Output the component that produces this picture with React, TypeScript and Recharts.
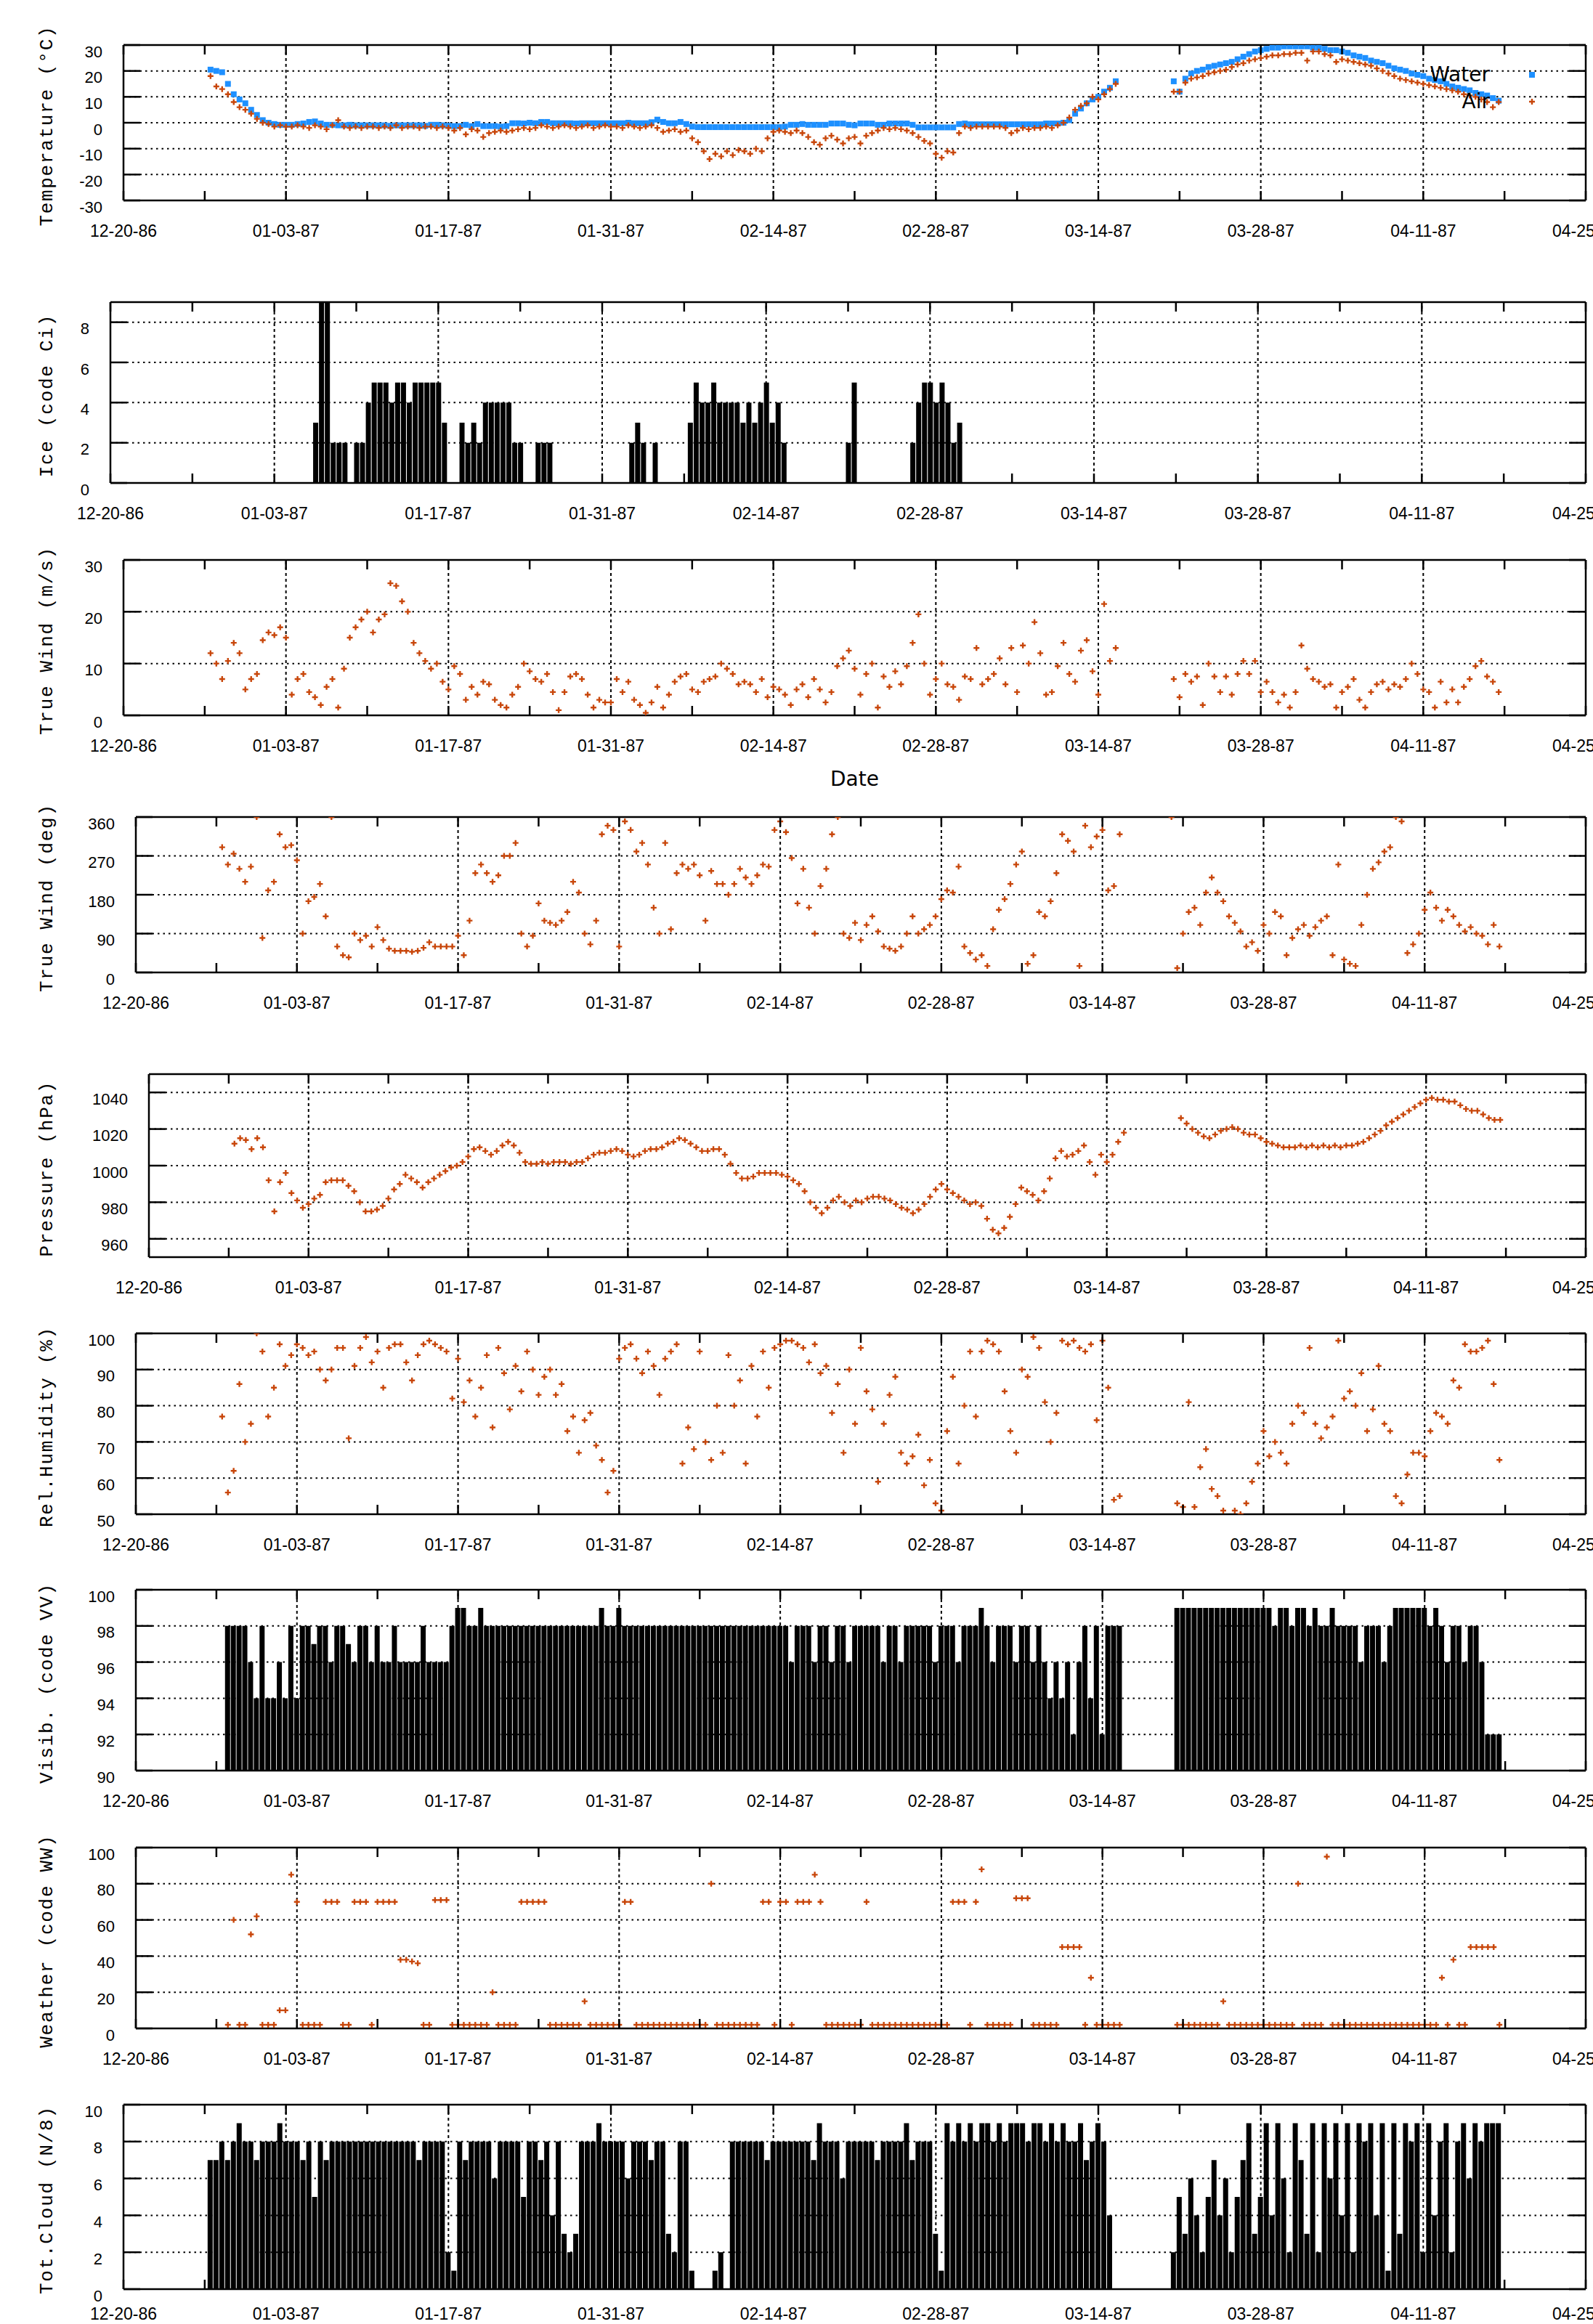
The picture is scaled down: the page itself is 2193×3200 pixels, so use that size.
import React from 'react';
import { Bar, ComposedChart, ReferenceLine, Scatter, XAxis, YAxis } from 'recharts';

const PAGE_W = 2193;
const ORANGE = '#c8460a';
const BLUE = '#1e90ff';
const START_DAY = 7.5; // 12-27-86 12:00, first observation
const STEP = 0.5; // two readings per day
const _ = null;

// x = days since 12-20-86
const xTickDays = [0, 7, 14, 21, 28, 35, 42, 49, 56, 63, 70, 77, 84, 91, 98, 105, 112, 119, 126];
const dateLabels = ['12-20-86', '01-03-87', '01-17-87', '01-31-87', '02-14-87', '02-28-87', '03-14-87', '03-28-87', '04-11-87', '04-25-87'];
const gridDays = [14, 28, 42, 56, 70, 84, 98, 112];

// one row = one week (14 half-day readings)
const waterTemp = [
  20.5, 20, 19.5, 15, 11, 9, 7.5, 5, 3, 1, 0, -0.5, -0.8, -0.8,
  -0.8, -0.5, -0.3, 0.3, 0.5, -0.3, -0.8, -0.8, -1, -1, -0.8, -1, -1, -1,
  -1, -1, -1, -1.2, -1, -1, -1, -1, -1, -1.2, -0.8, -0.8, -1, -1.2,
  -1.3, -1.3, -0.8, -1.3, -0.5, -1.3, -1.3, -1.3, -1.5, -1.3, -0.2, -0.2, -0.3, 0,
  -0.2, 0.3, 0.3, -0.2, -0.2, -0.2, -0.2, -0.3, -0.2, -0.2, -0.2, -0.2, -0.2, -0.2,
  -0.2, -0.2, 0, -0.2, -0.2, -0.2, 0.2, 1.2, 0.3, -0.2, -0.2, 0.3, -0.5, -1.5,
  -1.7, -1.7, -1.7, -1.7, -1.7, -1.7, -1.7, -1.7, -1.7, -1.7, -1.7, -1.7, -1.7, -1.7,
  -1.7, -1.5, -0.8, -0.8, -0.5, -0.8, -0.8, -0.8, -0.8, -0.3, -0.3, -0.3, -0.8, -1,
  -0.3, -0.3, -0.3, -0.8, -0.8, -0.3, -0.3, -0.3, -0.3, -0.8, -1.8, -1.8, -1.8, -1.8,
  -1.8, -1.8, -1.8, -0.5, -0.3, -0.6, -0.6, -0.6, -0.6, -0.6, -0.6, -0.6, -0.6, -0.6,
  -0.6, -0.6, -0.6, -0.6, -0.3, -0.3, -0.3, 0, 1, 3.5, 5.5, 7.5, 9, 10,
  12, 13.5, 16, _, _, _, _, _, _, _, _, _, 16, 12,
  17, 19, 20, 20.5, 21.5, 22, 22.5, 23, 23.5, 24.5, 25.5, 26.5, 27.5, 28,
  28.5, 29, 29, 29.5, 29.5, 29.5, 29.5, 29.5, 29, 29, 28.5, 28, 28, 27.5,
  27, 26, 25.5, 25, 24, 23.5, 23, 22, 21, 20.5, 20, 19, 18.5, 18,
  17, 16.5, 16, 15, 14, 13.5, 13, 12.5, 11.5, 11, 10.5, 9.5, 8.5, _,
];

const airTemp = [
  18, 14, 13, 11, 8, 6, 5, 3.5, 1.5, 0, -0.5, -1.5, -1, -1.5,
  -1.5, -1, -1.5, -2, -1, -1.5, -2.5, -1, 1, -1.5, -2, -1.5, -2, -1.5,
  -1.5, -2, -1.5, -2, -1, -2, -1.5, -1.5, -2, -1.5, -1.5, -2, -1.5, -2,
  -3, -2, -4.5, -2.5, -3, -5.5, -4, -3.5, -3, -3.5, -3, -2.5, -2, -2.5,
  -2, -1, -1.5, -2, -1.5, -1, -1.5, -2, -1.5, -1, -2, -1.5, -1, -1.5,
  -1.5, -2, -1, -1.5, -2, -1.5, -1, -2, -3.5, -3, -2.5, -3.5, -3, -6,
  -7.5, -11, -14, -12, -13, -11, -12.5, -10.5, -11, -12, -10, -11, -6, -3.5,
  -3, -3.5, -4, -3, -4, -5.5, -7.5, -8.5, -6, -5, -6.5, -8, -6, -5.5,
  -8, -5, -4, -3, -2, -2.5, -2, -2.5, -3, -4, -5.5, -7, -8, -12,
  -13.5, -11, -11.5, -4, -1.5, -2, -1.5, -1.5, -1.5, -1.5, -1.5, -2, -4, -3,
  -2, -2.5, -2, -2, -1.5, -2, -1, 0, 2, 5, 6.5, 7.5, 10, 9,
  11, 13, 15, _, _, _, _, _, _, _, _, _, 12, 12,
  15.5, 17, 17.5, 18, 19, 19.5, 20, 20.5, 21.5, 22.5, 23, 24, 24.5, 25,
  25.5, 26, 26, 26.5, 26.5, 27, 27, 24, 27.5, 27.5, 26.5, 26, 23.5, 24.5,
  24, 23.5, 23, 22.5, 22, 21, 20, 19, 18, 17, 16.5, 16, 15.5, 15,
  14.5, 14, 13.5, 13, 12.5, 12, 11, 10.5, 10, 9, 8, 6, 8, _,
];

const iceCode = [
  0, 0, 0, 0, 0, 0, 0, 0, 0, 0, 0, 0, 0, 0,
  0, 0, 0, 0, 0, 0, 3, 9, 9, 2, 2, 2, 0, 2,
  2, 4, 5, 5, 5, 4, 5, 5, 4, 5, 5, 5, 5, 5,
  3, 0, 0, 3, 2, 3, 2, 4, 4, 4, 4, 4, 2, 2,
  0, 0, 2, 2, 2, 0, 0, 0, 0, 0, 0, 0, 0, 0,
  0, 0, 0, 0, 2, 3, 2, 0, 2, 0, 0, 0, 0, 0,
  3, 5, 4, 4, 5, 4, 4, 4, 4, 3, 4, 3, 4, 5,
  3, 4, 2, 0, 0, 0, 0, 0, 0, 0, 0, 0, 0, 2,
  5, 0, 0, 0, 0, 0, 0, 0, 0, 0, 2, 4, 5, 5,
  4, 5, 4, 2, 3, 0, 0, 0, 0, 0, 0, 0, 0, 0,
];

const windSpeed = [
  12, 10, 7, 10.5, 14, 12, 5, 7, 8, 14.5, 16, 15.5, 17, 15,
  4, 7, 8, 4.5, 3.5, 2, 5.5, 7, 1.5, 9, 15, 17, 18.5, 20,
  16, 18.5, 19.5, 25.5, 25, 22, 20, 14, 12, 10.5, 9, 10, 6.5, 5,
  9.5, 8, 3, 5.5, 4, 6.5, 6, 3, 2, 1.5, 4, 5.5, 10, 8.5,
  7, 6.5, 8, 4.5, 1, 4.5, 7.5, 8, 7, 4, 1.5, 3, 2.5, 2.5,
  7, 4.5, 6.5, 3, 2, 0.5, 2.5, 5.5, 1.5, 4, 6.5, 7.5, 8, 5,
  4.5, 6.5, 7, 7.5, 10, 9, 8, 6, 6.5, 6, 4.5, 7, 3.5, 5.5,
  5, 4, 2, 5, 6, 3.5, 7, 5, 2.5, 4.5, 9.5, 11, 12.5, 9,
  4, 8, 10, 1.5, 7.5, 5.5, 8.5, 6, 9.5, 14, 19.5, 10, 4, 7,
  10, 6, 5.5, 3, 7.5, 7, 13, 6, 7, 8, 11, 6, 13, 4.5,
  13.5, 10, 18, 12, 4, 4.5, 9.5, 14, 8, 6.5, 12.5, 14.5, 8.5, 4,
  21.5, 10.5, 13, _, _, _, _, _, _, _, _, _, 7, 3.5,
  8, 6.5, 7.5, 2, 10, 7.5, 4.5, 7.5, 4, 8, 10.5, 8, 10.5, 4.5,
  6.5, 4.5, 2.5, 4, 1.5, 4.5, 13.5, 9, 7, 6.5, 5.5, 6, 1.5, 4.5,
  5.5, 7, 3, 1.5, 4.5, 6, 6.5, 5, 6, 5.5, 7, 10, 8, 5,
  4.5, 1.5, 6.5, 2.5, 5, 2.5, 5.5, 7, 9.5, 10.5, 7.5, 6.5, 4.5, _,
];

const windDir = [
  290, 250, 275, 240, 210, 245, 360, 80, 190, 210, 320, 290, 295, 260,
  90, 165, 175, 205, 130, 360, 60, 40, 35, 90, 75, 85, 60, 105,
  75, 55, 50, 50, 50, 48, 50, 57, 70, 60, 60, 60, 60, 85,
  40, 120, 230, 250, 230, 210, 225, 270, 270, 300, 90, 60, 85, 160,
  120, 115, 110, 120, 140, 210, 185, 90, 65, 120, 320, 340, 330, 60,
  350, 330, 280, 300, 250, 150, 90, 300, 100, 230, 250, 240, 250, 225,
  120, 235, 205, 205, 180, 205, 240, 220, 205, 225, 250, 245, 330, 350,
  325, 265, 160, 240, 150, 90, 200, 240, 320, 360, 90, 80, 115, 75,
  110, 130, 95, 60, 55, 50, 60, 90, 130, 90, 100, 110, 130, 170,
  190, 185, 245, 60, 45, 30, 40, 15, 100, 145, 170, 205, 250, 280,
  20, 40, 140, 130, 165, 230, 320, 305, 280, 15, 340, 290, 315, 330,
  190, 200, 320, _, _, _, _, _, _, _, _, 360, 10, 90,
  140, 150, 110, 185, 220, 185, 165, 130, 115, 95, 60, 70, 50, 110,
  90, 140, 130, 40, 80, 100, 110, 85, 105, 120, 130, 40, 250, 30,
  20, 15, 110, 180, 240, 255, 280, 290, 360, 350, 45, 65, 90, 145,
  185, 150, 120, 145, 130, 110, 95, 105, 90, 85, 65, 110, 60, _,
];

const pressure = [
  1012, 1015, 1014, 1009, 1015, 1010, 992, 975, 991, 996, 985, 981, 977, 979,
  982, 984, 991, 992, 992, 992, 989, 986, 980, 975, 975, 976, 978, 982,
  987, 990, 995, 993, 991, 988, 991, 993, 995, 997, 999, 1000, 1002, 1005,
  1009, 1010, 1008, 1006, 1008, 1011, 1013, 1011, 1007, 1002, 1001, 1001, 1002, 1001,
  1002, 1002, 1002, 1001, 1002, 1002, 1004, 1006, 1007, 1007, 1008, 1009, 1008, 1006,
  1005, 1006, 1008, 1009, 1009, 1010, 1012, 1013, 1015, 1014, 1012, 1010, 1008, 1008,
  1009, 1009, 1006, 1001, 996, 993, 993, 994, 996, 996, 996, 996, 995, 994,
  992, 990, 986, 980, 977, 974, 977, 981, 983, 980, 978, 981, 980, 982,
  983, 983, 982, 981, 979, 977, 976, 974, 976, 979, 983, 987, 990, 987,
  985, 983, 981, 979, 980, 978, 971, 965, 963, 966, 972, 979, 988, 986,
  984, 981, 986, 993, 1004, 1008, 1005, 1006, 1008, 1011, 1002, 995, 1006, 1002,
  1006, 1013, 1018, _, _, _, _, _, _, _, _, _, 1026, 1023,
  1020, 1018, 1016, 1015, 1017, 1019, 1020, 1021, 1020, 1018, 1017, 1017, 1015, 1013,
  1012, 1011, 1010, 1010, 1010, 1011, 1010, 1011, 1010, 1011, 1010, 1011, 1010, 1011,
  1011, 1012, 1013, 1015, 1017, 1019, 1022, 1024, 1026, 1028, 1030, 1032, 1034, 1036,
  1037, 1036, 1036, 1035, 1035, 1033, 1031, 1030, 1030, 1028, 1026, 1025, 1025, _,
];

const humidity = [
  77, 56, 62, 86, 70, 75, 100, 95, 77, 85, 97, 91, 94, 97,
  96, 94, 95, 90, 87, 90, 96, 96, 71, 91, 96, 99, 92, 95,
  85, 96, 97, 97, 92, 87, 94, 97, 98, 97, 96, 95, 82, 93,
  81, 87, 77, 85, 94, 74, 96, 89, 79, 91, 84, 95, 90, 83,
  88, 90, 83, 86, 73, 77, 67, 76, 78, 69, 65, 56, 62, 93,
  96, 97, 93, 89, 95, 91, 83, 93, 95, 97, 64, 74, 68, 95,
  70, 65, 80, 67, 94, 80, 87, 64, 91, 77, 95, 85, 96, 97,
  98, 98, 97, 96, 92, 97, 89, 91, 78, 86, 67, 90, 75, 96,
  84, 79, 59, 75, 83, 88, 67, 64, 66, 72, 58, 65, 53, 51,
  73, 88, 64, 80, 95, 77, 95, 98, 97, 95, 84, 73, 67, 90,
  88, 99, 96, 81, 70, 78, 98, 97, 98, 96, 95, 97, 76, 98,
  85, 54, 55, _, _, _, _, _, _, _, _, _, 53, 52,
  81, 52, 63, 68, 57, 55, 51, _, 51, 50, 53, 59, 64, 73,
  66, 70, 67, 64, 75, 80, 78, 96, 75, 71, 74, 77, 98, 82,
  84, 80, 89, 73, 79, 91, 75, 73, 55, 53, 61, 67, 67, 66,
  73, 78, 77, 75, 87, 85, 97, 95, 95, 96, 98, 86, 65, _,
];

const visibility = [
  _, 98, 98, 98, 98, 96, 94, 98, 94, 94, 96, 94, 98, 94,
  98, 98, 97, 98, 98, 96, 98, 98, 97, 96, 98, 98, 96, 98,
  96, 96, 98, 96, 96, 96, 96, 98, 96, 96, 96, 96, 98, 99,
  99, 98, 98, 99, 98, 98, 98, 98, 98, 98, 98, 98, 98, 98,
  98, 98, 98, 98, 98, 98, 98, 98, 98, 98, 99, 98, 98, 99,
  98, 98, 98, 98, 98, 98, 98, 98, 98, 98, 98, 98, 98, 98,
  98, 98, 98, 98, 98, 98, 98, 98, 98, 98, 98, 98, 98, 98,
  98, 96, 98, 98, 98, 96, 98, 98, 96, 98, 98, 96, 98, 98,
  98, 98, 98, 96, 98, 98, 96, 98, 98, 98, 98, 98, 96, 98,
  98, 98, 96, 98, 98, 98, 99, 98, 96, 98, 98, 98, 96, 98,
  98, 96, 98, 96, 94, 96, 94, 96, 92, 96, 98, 94, 98, 92,
  98, 98, 98, _, _, _, _, _, _, _, _, _, 99, 99,
  99, 99, 99, 99, 99, 99, 99, 99, 99, 99, 99, 99, 99, 99,
  99, 98, 99, 99, 98, 99, 99, 98, 99, 98, 98, 99, 98, 98,
  98, 98, 96, 98, 98, 98, 96, 98, 99, 99, 99, 99, 99, 99,
  98, 99, 98, 96, 98, 98, 96, 98, 98, 96, 92, 92, 92, _,
];

const weatherCode = [
  _, 2, 60, 2, 2, 52, 62, 2, 2, 2, 10, 10, 85, 70,
  2, 2, 2, 2, 70, 70, 70, 2, 2, 70, 70, 70, 2, 70,
  70, 70, 70, 38, 38, 37, 36, 2, 2, 71, 71, 71, 2, 2,
  2, 2, 2, 2, 2, 20, 2, 2, 2, 2, 70, 70, 70, 70,
  70, 2, 2, 2, 2, 2, 2, 15, 2, 2, 2, 2, 2, 2,
  70, 70, 2, 2, 2, 2, 2, 2, 2, 2, 2, 2, 2, 2,
  2, 80, 2, 2, 2, 2, 2, 2, 2, 2, 70, 70, 2, 70,
  70, 2, 70, 70, 70, 85, 70, 2, 2, 2, 2, 2, 2, 2,
  70, 2, 2, 2, 2, 2, 2, 2, 2, 2, 2, 2, 2, 2,
  2, 70, 70, 70, 2, 70, 88, 2, 2, 2, 2, 2, 72, 72,
  72, 2, 2, 2, 2, 2, 45, 45, 45, 45, 2, 28, 2, 2,
  2, 2, 2, _, _, _, _, _, _, _, _, _, 2, 2,
  2, 2, 2, 2, 2, 2, 15, 2, 2, 2, 2, 2, 2, 2,
  2, 2, 2, 2, 2, 80, 2, 2, 2, 2, 95, 2, 2, 2,
  2, 2, 2, 2, 2, 2, 2, 2, 2, 2, 2, 2, 2, 2,
  2, 2, 28, 2, 38, 2, 2, 45, 45, 45, 45, 45, 2, _,
];

const totalCloud = [
  7, 7, 8, 7, 8, 9, 8, 8, 7, 8, 8, 8, 9, 8,
  8, 8, 7, 8, 5, 8, 7, 8, 8, 8, 8, 8, 8, 8,
  8, 8, 8, 8, 8, 8, 8, 8, 7, 8, 8, 8, 8, 2,
  1, 8, 7, 8, 8, 8, 8, 6, 8, 8, 8, 8, 5, 8,
  8, 7, 8, 4, 8, 3, 2, 3, 8, 8, 8, 9, 8, 8,
  8, 8, 6, 8, 8, 8, 7, 8, 8, 3, 2, 8, 8, 1,
  0, 0, 0, 1, 2, 0, 8, 8, 8, 8, 8, 8, 7, 8,
  8, 8, 8, 8, 8, 8, 7, 9, 8, 8, 8, 6, 8, 8,
  8, 8, 8, 7, 8, 8, 8, 8, 9, 7, 8, 8, 8, 3,
  1, 9, 8, 9, 8, 9, 8, 9, 9, 8, 9, 8, 9, 9,
  9, 8, 9, 9, 8, 9, 8, 9, 8, 8, 9, 7, 8, 9,
  8, 4, 0, _, _, _, _, _, _, _, _, _, 2, 5,
  3, 6, 4, 2, 5, 7, 4, 6, 2, 5, 7, 9, 3, 5,
  9, 4, 9, 6, 2, 9, 7, 3, 9, 2, 9, 6, 9, 4,
  9, 2, 9, 8, 9, 4, 9, 1, 9, 3, 9, 8, 9, 2,
  9, 4, 8, 9, 2, 8, 9, 6, 9, 8, 9, 9, 9, _,
];

const toPoints = (vals: (number | null)[]) =>
  vals.flatMap((v, i) => (v == null ? [] : [{ d: START_DAY + i * STEP, v }]));

type Box = { top: number; bottom: number; left: number; right: number };

const LABEL_FONT = "'Liberation Sans', Arial, sans-serif";
const PAD_TOP = 40;

function XTick({ x, y, payload, plotH, gap }: any) {
  const day = payload?.value as number;
  const label = day % 14 === 0 ? dateLabels[day / 14] : null;
  return (
    <g>
      <line x1={x} y1={y} x2={x} y2={y - 13} stroke="#000" strokeWidth={2.5} />
      <line x1={x} y1={y - plotH} x2={x} y2={y - plotH + 13} stroke="#000" strokeWidth={2.5} />
      {label && (
        <text x={x} y={y + gap} textAnchor="middle" dominantBaseline="central" fontFamily={LABEL_FONT} fontSize={23} fill="#000">
          {label}
        </text>
      )}
    </g>
  );
}

function YTick({ x, y, payload, plotW }: any) {
  return (
    <g>
      <line x1={x} y1={y} x2={x + 23} y2={y} stroke="#000" strokeWidth={2.5} />
      <line x1={x + plotW - 23} y1={y} x2={x + plotW} y2={y} stroke="#000" strokeWidth={2.5} />
      <text x={x - 29} y={y + 9} textAnchor="end" dominantBaseline="central" fontFamily={LABEL_FONT} fontSize={22} fill="#000">
        {payload?.value}
      </text>
    </g>
  );
}

function AxisTitle({ px, py, text }: any) {
  return (
    <text
      x={px}
      y={py}
      transform={`rotate(-90 ${px} ${py})`}
      textAnchor="middle"
      dominantBaseline="central"
      fontFamily="'Liberation Mono', 'DejaVu Sans Mono', monospace"
      fontSize={26}
      textLength={text.length * 17.2}
      lengthAdjust="spacing"
      fill="#000"
    >
      {text}
    </text>
  );
}

function PlainText({ px, py, text }: any) {
  return (
    <text x={px} y={py} textAnchor="middle" dominantBaseline="central" fontFamily="'DejaVu Sans', sans-serif" fontSize={28} fill="#000">
      {text}
    </text>
  );
}

const plusShape = (p: any) =>
  p.cx == null || p.cy == null ? (
    <g />
  ) : (
    <path d={`M${p.cx - 4},${p.cy}h8M${p.cx},${p.cy - 4}v8`} stroke={ORANGE} strokeWidth={2.4} fill="none" />
  );

const squareShape = (p: any) =>
  p.cx == null || p.cy == null ? <g /> : <rect x={p.cx - 4} y={p.cy - 4} width={8} height={8} fill={BLUE} />;

const legendItems = [
  { name: 'Water', kind: 'square' },
  { name: 'Air', kind: 'plus' },
];

function TempLegend() {
  return (
    <div style={{ position: 'absolute', left: 1901, top: 84 }}>
      {legendItems.map((it) => (
        <div key={it.name} style={{ display: 'flex', alignItems: 'center', height: 37 }}>
          <span style={{ width: 150, textAlign: 'right', fontFamily: "'DejaVu Sans', sans-serif", fontSize: 28, color: '#000', lineHeight: '37px' }}>
            {it.name}
          </span>
          <svg width={20} height={20} style={{ marginLeft: 48 }}>
            {it.kind === 'square' ? (
              <rect x={6} y={6} width={8} height={8} fill={BLUE} />
            ) : (
              <path d="M6,10h8M10,6v8" stroke={ORANGE} strokeWidth={2.4} />
            )}
          </svg>
        </div>
      ))}
    </div>
  );
}

interface PanelProps {
  box: Box;
  yDomain: [number, number];
  yTicks: number[];
  title: string;
  data?: { d: number; v: number }[];
  xTitle?: string;
  labelGap?: number;
  children: React.ReactNode;
}

function Panel({ box, yDomain, yTicks, title, data, xTitle, labelGap = 42, children }: PanelProps) {
  const plotH = box.bottom - box.top;
  const plotW = box.right - box.left;
  const xAxisH = xTitle ? 110 : 64;
  const height = PAD_TOP + plotH + xAxisH;
  const innerY = yTicks.filter((t) => t > yDomain[0] && t < yDomain[1]);
  return (
    <div style={{ position: 'absolute', left: 0, top: box.top - PAD_TOP }}>
      <ComposedChart
        width={PAGE_W}
        height={height}
        data={data}
        margin={{ top: PAD_TOP, right: PAGE_W - box.right, bottom: 0, left: 0 }}
      >
        <XAxis
          type="number"
          dataKey="d"
          domain={[0, 126]}
          ticks={xTickDays}
          interval={0}
          allowDataOverflow
          axisLine={false}
          tickLine={false}
          tickSize={0}
          tickMargin={0}
          height={xAxisH}
          tick={(p: any) => <XTick {...p} plotH={plotH} gap={labelGap} />}
          label={xTitle ? <PlainText px={(box.left + box.right) / 2} py={PAD_TOP + plotH + 87} text={xTitle} /> : undefined}
        />
        <YAxis
          type="number"
          domain={yDomain}
          ticks={yTicks}
          interval={0}
          allowDataOverflow
          axisLine={false}
          tickLine={false}
          tickSize={0}
          tickMargin={0}
          width={box.left}
          tick={(p: any) => <YTick {...p} plotW={plotW} />}
          label={<AxisTitle px={65} py={PAD_TOP + plotH / 2 + 5} text={title} />}
        />
        {gridDays.map((g) => (
          <ReferenceLine key={`gx${g}`} x={g} stroke="#000" strokeWidth={2} strokeDasharray="4 4" />
        ))}
        {innerY.map((t) => (
          <ReferenceLine key={`gy${t}`} y={t} stroke="#000" strokeWidth={2} strokeDasharray="2.5 5" />
        ))}
        {children}
        <ReferenceLine x={0} stroke="#000" strokeWidth={2.5} />
        <ReferenceLine x={126} stroke="#000" strokeWidth={2.5} />
        <ReferenceLine y={yDomain[0]} stroke="#000" strokeWidth={2.5} />
        <ReferenceLine y={yDomain[1]} stroke="#000" strokeWidth={2.5} />
      </ComposedChart>
    </div>
  );
}

const boxes: Record<string, Box> = {
  temp: { top: 62, bottom: 276, left: 170, right: 2183 },
  ice: { top: 416, bottom: 665, left: 152, right: 2183 },
  wind: { top: 771, bottom: 985, left: 170, right: 2183 },
  dir: { top: 1125, bottom: 1339, left: 187, right: 2183 },
  pres: { top: 1479, bottom: 1731, left: 205, right: 2183 },
  hum: { top: 1836, bottom: 2085, left: 187, right: 2183 },
  vis: { top: 2189, bottom: 2438, left: 187, right: 2183 },
  ww: { top: 2544, bottom: 2793, left: 187, right: 2183 },
  cloud: { top: 2898, bottom: 3152, left: 170, right: 2183 },
};

export default function App() {
  return (
    <div style={{ position: 'absolute', left: 0, top: 0, width: PAGE_W, height: 3200, background: '#fff', overflow: 'hidden' }}>
      <Panel box={boxes.temp} yDomain={[-30, 30]} yTicks={[-30, -20, -10, 0, 10, 20, 30]} title="Temperature (°C)">
        {[
          <Scatter key="w" name="Water" data={toPoints(waterTemp)} dataKey="v" shape={squareShape} isAnimationActive={false} />,
          <Scatter key="a" name="Air" data={toPoints(airTemp)} dataKey="v" shape={plusShape} isAnimationActive={false} />,
        ]}
      </Panel>
      <TempLegend />

      <Panel box={boxes.ice} yDomain={[0, 9]} yTicks={[0, 2, 4, 6, 8]} title="Ice (code Ci)" data={toPoints(iceCode)}>
        <Bar dataKey="v" fill="#000" barSize={7} isAnimationActive={false} />
      </Panel>

      <Panel box={boxes.wind} yDomain={[0, 30]} yTicks={[0, 10, 20, 30]} title="True Wind (m/s)" xTitle="Date">
        <Scatter data={toPoints(windSpeed)} dataKey="v" shape={plusShape} isAnimationActive={false} />
      </Panel>

      <Panel box={boxes.dir} yDomain={[0, 360]} yTicks={[0, 90, 180, 270, 360]} title="True Wind (deg)">
        <Scatter data={toPoints(windDir)} dataKey="v" shape={plusShape} isAnimationActive={false} />
      </Panel>

      <Panel box={boxes.pres} yDomain={[950, 1050]} yTicks={[960, 980, 1000, 1020, 1040]} title="Pressure (hPa)">
        <Scatter data={toPoints(pressure)} dataKey="v" shape={plusShape} isAnimationActive={false} />
      </Panel>

      <Panel box={boxes.hum} yDomain={[50, 100]} yTicks={[50, 60, 70, 80, 90, 100]} title="Rel.Humidity (%)">
        <Scatter data={toPoints(humidity)} dataKey="v" shape={plusShape} isAnimationActive={false} />
      </Panel>

      <Panel box={boxes.vis} yDomain={[90, 100]} yTicks={[90, 92, 94, 96, 98, 100]} title="Visib. (code VV)" data={toPoints(visibility)}>
        <Bar dataKey="v" fill="#000" barSize={7} isAnimationActive={false} />
      </Panel>

      <Panel box={boxes.ww} yDomain={[0, 100]} yTicks={[0, 20, 40, 60, 80, 100]} title="Weather (code WW)">
        <Scatter data={toPoints(weatherCode)} dataKey="v" shape={plusShape} isAnimationActive={false} />
      </Panel>

      <Panel box={boxes.cloud} yDomain={[0, 10]} yTicks={[0, 2, 4, 6, 8, 10]} title="Tot.Cloud (N/8)" data={toPoints(totalCloud)} labelGap={34}>
        <Bar dataKey="v" fill="#000" barSize={7} isAnimationActive={false} />
      </Panel>
    </div>
  );
}
